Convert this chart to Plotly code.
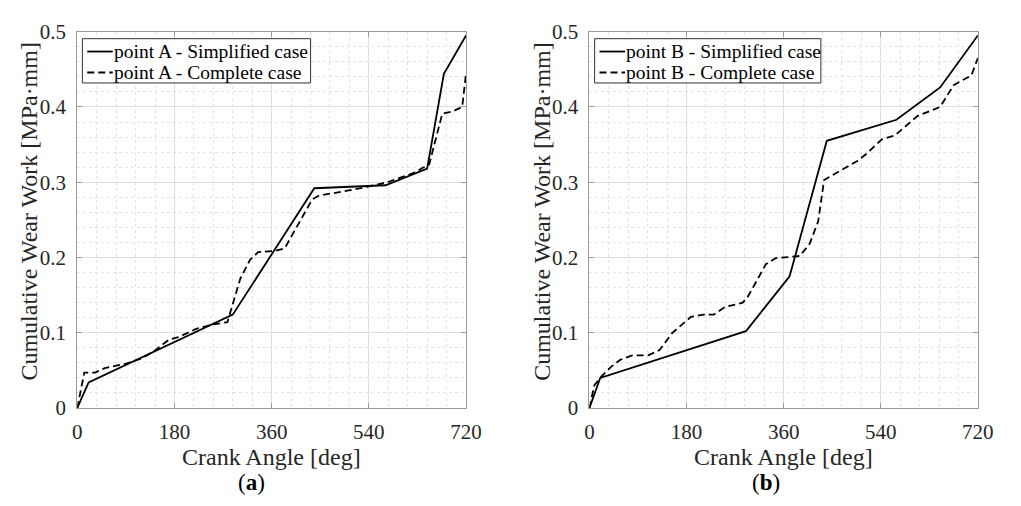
import plotly.graph_objects as go

# ---- data ----
angle_A_simpl = [0, 21, 288, 439, 571, 648, 679, 720]
wear_A_simpl = [0, 0.034, 0.124, 0.292, 0.296, 0.318, 0.444, 0.495]

angle_A_compl = [0, 13, 33, 51, 91, 120, 145, 170, 187, 220, 251, 278, 302, 320, 335, 368, 384,
                 435, 447, 532, 574, 622, 652, 676, 695, 713, 720]
wear_A_compl = [0, 0.047, 0.047, 0.053, 0.059, 0.066, 0.077, 0.091, 0.094, 0.105, 0.111, 0.114,
                0.172, 0.197, 0.207, 0.209, 0.212, 0.277, 0.282, 0.293, 0.300, 0.312, 0.324,
                0.391, 0.394, 0.400, 0.445]

angle_B_simpl = [0, 20, 290, 371, 440, 569, 650, 720]
wear_B_simpl = [0, 0.040, 0.102, 0.175, 0.355, 0.383, 0.426, 0.495]

angle_B_compl = [0, 9, 21, 39, 57, 79, 109, 130, 154, 188, 212, 230, 251, 284, 293, 327, 345,
                 372, 390, 408, 424, 435, 454, 496, 514, 542, 566, 608, 650, 675, 708, 720]
wear_B_compl = [0, 0.030, 0.041, 0.054, 0.064, 0.070, 0.070, 0.077, 0.100, 0.121, 0.124, 0.124,
                0.134, 0.140, 0.147, 0.191, 0.199, 0.201, 0.202, 0.218, 0.248, 0.303, 0.311,
                0.328, 0.338, 0.357, 0.362, 0.388, 0.400, 0.429, 0.442, 0.465]

x_ticks = [0, 180, 360, 540, 720]
y_ticks = [0, 0.1, 0.2, 0.3, 0.4, 0.5]
y_tick_text = ["0", "0.1", "0.2", "0.3", "0.4", "0.5"]

names_A = ["point A - Simplified case", "point A - Complete case"]
names_B = ["point B - Simplified case", "point B - Complete case"]
x_title = "Crank Angle [deg]"
y_title = "Cumulative Wear Work [MPa·mm]"
panel_labels = ["(<b>a</b>)", "(<b>b</b>)"]

FONT = "Liberation Serif"
W, H = 1021, 506

fig = go.Figure()

solid = dict(color="black", width=1.8)
dashed = dict(color="black", width=1.8, dash="7px,4px")

fig.add_trace(go.Scatter(x=angle_A_simpl, y=wear_A_simpl, mode="lines", line=solid,
                         name=names_A[0], xaxis="x", yaxis="y"))
fig.add_trace(go.Scatter(x=angle_A_compl, y=wear_A_compl, mode="lines", line=dashed,
                         name=names_A[1], xaxis="x", yaxis="y"))
fig.add_trace(go.Scatter(x=angle_B_simpl, y=wear_B_simpl, mode="lines", line=solid,
                         name=names_B[0], xaxis="x2", yaxis="y2"))
fig.add_trace(go.Scatter(x=angle_B_compl, y=wear_B_compl, mode="lines", line=dashed,
                         name=names_B[1], xaxis="x2", yaxis="y2"))

boxes = [(73.8, 470.7), (596.7, 993.3)]
top_px, bot_px = 20.7, 415.7
ydom = [1 - bot_px / H, 1 - top_px / H]

GRID = "#dedede"
MINOR = "#e4e4e4"
FRAME = "#9a9a9a"

def px(x):
    return x / W

def py(y):
    return 1 - y / H

def xaxis_cfg(dom, anchor):
    return dict(domain=[dom[0] / W, dom[1] / W], anchor=anchor, range=[0, 720],
                tickvals=x_ticks, ticktext=[str(v) for v in x_ticks],
                showgrid=True, gridcolor=GRID, gridwidth=1,
                minor=dict(dtick=36, tick0=0, showgrid=True, gridcolor=MINOR, griddash="dot",
                           gridwidth=1),
                showline=True, linecolor=FRAME, linewidth=1, mirror="ticks",
                ticks="inside", ticklen=5, tickcolor=FRAME,
                tickfont=dict(family=FONT, size=21, color="#262626"),
                zeroline=False, fixedrange=True, ticklabelstandoff=5)

def yaxis_cfg(anchor):
    return dict(domain=ydom, anchor=anchor, range=[0, 0.5],
                tickvals=y_ticks, ticktext=y_tick_text,
                showgrid=True, gridcolor=GRID, gridwidth=1,
                minor=dict(dtick=0.02, tick0=0, showgrid=True, gridcolor=MINOR, griddash="dot",
                           gridwidth=1),
                showline=True, linecolor=FRAME, linewidth=1, mirror="ticks",
                ticks="inside", ticklen=5, tickcolor=FRAME,
                tickfont=dict(family=FONT, size=21, color="#262626"),
                zeroline=False, fixedrange=True, ticklabelstandoff=6)

fig.update_layout(
    width=W, height=H, autosize=False, margin=dict(l=0, r=0, t=0, b=0),
    paper_bgcolor="white", plot_bgcolor="white",
    font=dict(family=FONT, color="black"),
    xaxis=xaxis_cfg(boxes[0], "y"), yaxis=yaxis_cfg("x"),
    xaxis2=xaxis_cfg(boxes[1], "y2"), yaxis2=yaxis_cfg("x2"),
    showlegend=False,
)

# ---- legend boxes (MATLAB style, drawn as shapes + text) ----
legend_boxes = [(79, 312, names_A), (602, 833, names_B)]
leg_top, leg_bot = 28, 74.5
row_y = [41.5, 63.5]
shapes = []
annots = []
for (l, r, names) in legend_boxes:
    shapes.append(dict(type="rect", xref="paper", yref="paper", x0=px(l), x1=px(r),
                       y0=py(leg_bot), y1=py(leg_top), fillcolor="white",
                       line=dict(color="#333333", width=1), layer="above"))
    for k, name in enumerate(names):
        shapes.append(dict(type="line", xref="paper", yref="paper", x0=px(l + 5), x1=px(l + 31),
                           y0=py(row_y[k]), y1=py(row_y[k]), layer="above",
                           line=solid if k == 0 else dashed))
        annots.append(dict(text=name, x=px(l + 31), y=py(row_y[k]), xref="paper", yref="paper",
                           showarrow=False, xanchor="left", yanchor="middle", xshift=-1,
                           font=dict(family=FONT, size=19.5, color="black")))

for i, (l, r) in enumerate(boxes):
    cx = (l + r) / 2
    annots.append(dict(text=x_title, x=px(cx), y=py(467), xref="paper", yref="paper",
                       showarrow=False, xanchor="center", yanchor="middle",
                       font=dict(family=FONT, size=24, color="#262626")))
    ycx = 25 if i == 0 else 548
    annots.append(dict(text=y_title, x=px(ycx), y=py(209), xref="paper", yref="paper",
                       showarrow=False, xanchor="center", yanchor="middle", textangle=-90,
                       font=dict(family=FONT, size=24, color="#262626")))
    lx = 252 if i == 0 else 777
    annots.append(dict(text=panel_labels[i], x=px(lx), y=py(494), xref="paper", yref="paper",
                       showarrow=False, xanchor="center", yanchor="middle",
                       font=dict(family=FONT, size=23, color="black")))
fig.update_layout(shapes=shapes, annotations=annots)

fig.write_html("out.html", config={"responsive": False, "displayModeBar": False},
               post_script="document.documentElement.style.margin='0';"
                           "document.body.style.margin='0';"
                           "document.body.style.overflow='hidden';")
